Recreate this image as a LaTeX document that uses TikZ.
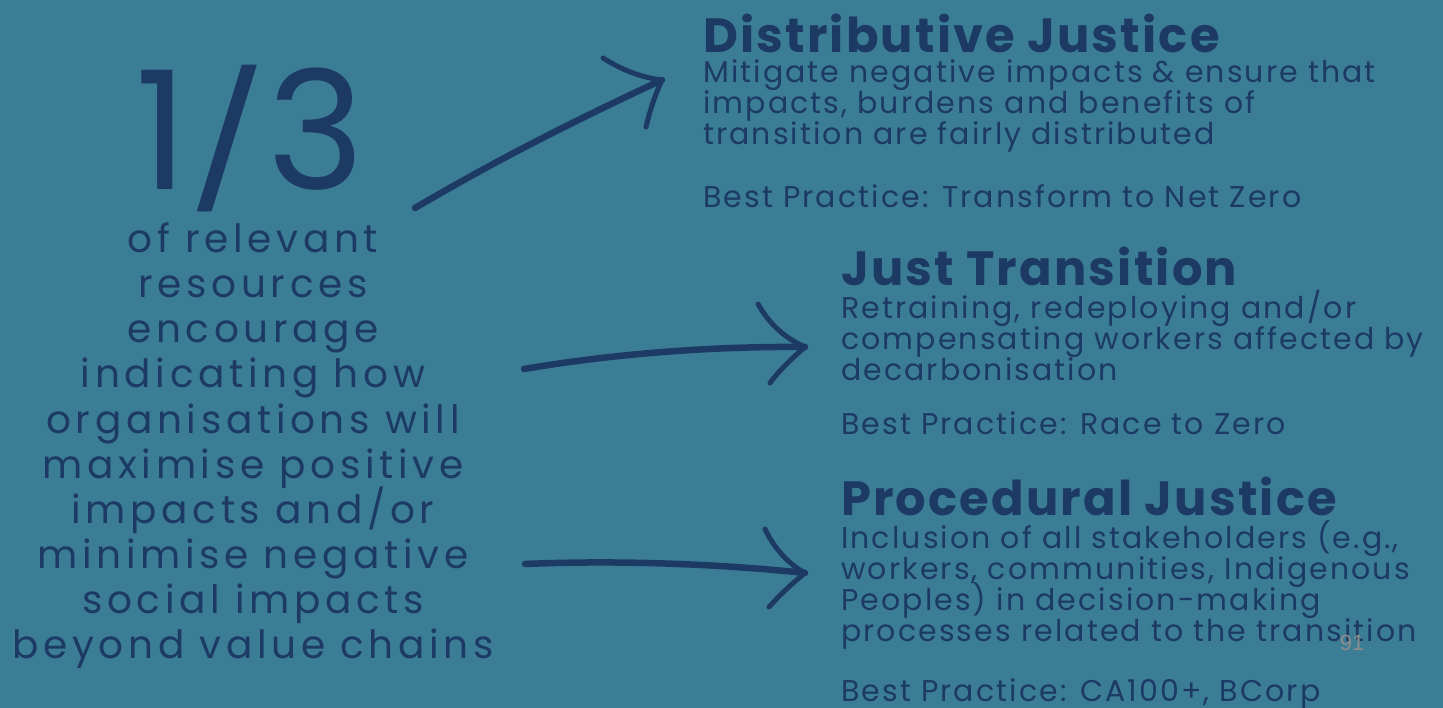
\documentclass[tikz,border=0pt]{standalone}
\usepackage{fontspec}
\setmainfont{Poppins}
\newfontfamily\leftfont[LetterSpace=12]{Poppins}
\newfontfamily\bodyfont[LetterSpace=7]{Poppins}
\newfontfamily\headfont[LetterSpace=4.5]{Poppins}
\newfontfamily\bigfont[LetterSpace=3]{Poppins}
\newfontfamily\pagefont{Liberation Sans}
\definecolor{bg}{HTML}{3C7D96}
\definecolor{ink}{HTML}{1C3A64}
\definecolor{pgnum}{HTML}{8E8C8A}
\begin{document}
\begin{tikzpicture}[x=1pt,y=-1pt,
  txt/.style={inner sep=0pt, text=ink},
  leftline/.style={txt, anchor=base, font=\leftfont\fontsize{39}{39}\selectfont},
  heading/.style={txt, anchor=base west, font=\headfont\bfseries\fontsize{48}{48}\selectfont},
  body/.style={txt, anchor=base west, font=\bodyfont\fontsize{30}{30}\selectfont},
  shaft/.style={draw=ink, line width=6.5pt, line cap=round, line join=round},
  barb/.style={draw=ink, line width=5pt, line cap=round}]
\fill[bg] (0,0) rectangle (1443,708);
\useasboundingbox (0,0) rectangle (1443,708);

% headline figure, with a shortened slash
\node[txt, anchor=base, font=\bigfont\fontsize{165}{165}\selectfont] (frac) at (250,190)
  {1\scalebox{1}[0.8]{/}3};

% centred statement under the figure
\foreach \t [count=\i] in {of relevant, resources, encourage, indicating how,
  organisations will, maximise positive, impacts and/or, minimise negative,
  social impacts, beyond value chains}
  \node[leftline] (l\i) at (253,{253+45*(\i-1)}) {\t};

% Distributive Justice
\node[heading] (dj) at (703,53) {Distributive Justice};
\foreach \t [count=\i] in {{Mitigate negative impacts \& ensure that},
  {impacts, burdens and benefits of},{transition are fairly distributed}}
  \node[body] (dj\i) at (703,{83+31*(\i-1)}) {\t};
\node[body] (djbp) at (703,208) {Best Practice: Transform to Net Zero};

% Just Transition
\node[heading] (jt) at (841,286) {Just Transition};
\foreach \t [count=\i] in {{Retraining, redeploying and/or},
  {compensating workers affected by},{decarbonisation}}
  \node[body] (jt\i) at (841,{319+31*(\i-1)}) {\t};
\node[body] (jtbp) at (841,434) {Best Practice: Race to Zero};

% Procedural Justice
\node[heading] (pj) at (841,515) {Procedural Justice};
\foreach \t [count=\i] in {{Inclusion of all stakeholders (e.g.,},
  {workers, communities, Indigenous},{Peoples) in decision-making},
  {processes related to the transition}}
  \node[body] (pj\i) at (841,{548+31*(\i-1)}) {\t};
\node[body] (pjbp) at (841,701) {Best Practice: CA100+, BCorp};

% hand-drawn arrows
\coordinate (a1s) at (415,208);
\coordinate (a1t) at (662,80);
\coordinate (a2s) at (524,369);
\coordinate (a2t) at (805,347);
\coordinate (a3s) at (525,564);
\coordinate (a3t) at (805,573);

\draw[shaft] (a1s) .. controls (500,158) and (580,118) .. (a1t);
\draw[barb] (603,58) .. controls (625,72) and (645,78) .. (a1t);
\draw[barb] (a1t) .. controls (655,95) and (650,110) .. (646,127);

\draw[shaft] (a2s) .. controls (600,356) and (700,346) .. (a2t);
\draw[barb] (758,304) .. controls (770,325) and (785,338) .. (a2t);
\draw[barb] (a2t) .. controls (790,360) and (778,372) .. (770,383);

\draw[shaft] (a3s) .. controls (620,560) and (720,564) .. (a3t);
\draw[barb] (765,529) .. controls (775,550) and (790,565) .. (a3t);
\draw[barb] (a3t) .. controls (790,585) and (778,597) .. (769,607);

% page number
\node[anchor=base, inner sep=0pt, text=pgnum, font=\pagefont\fontsize{22}{22}\selectfont] (pg) at (1352,650) {91};
\end{tikzpicture}
\end{document}
